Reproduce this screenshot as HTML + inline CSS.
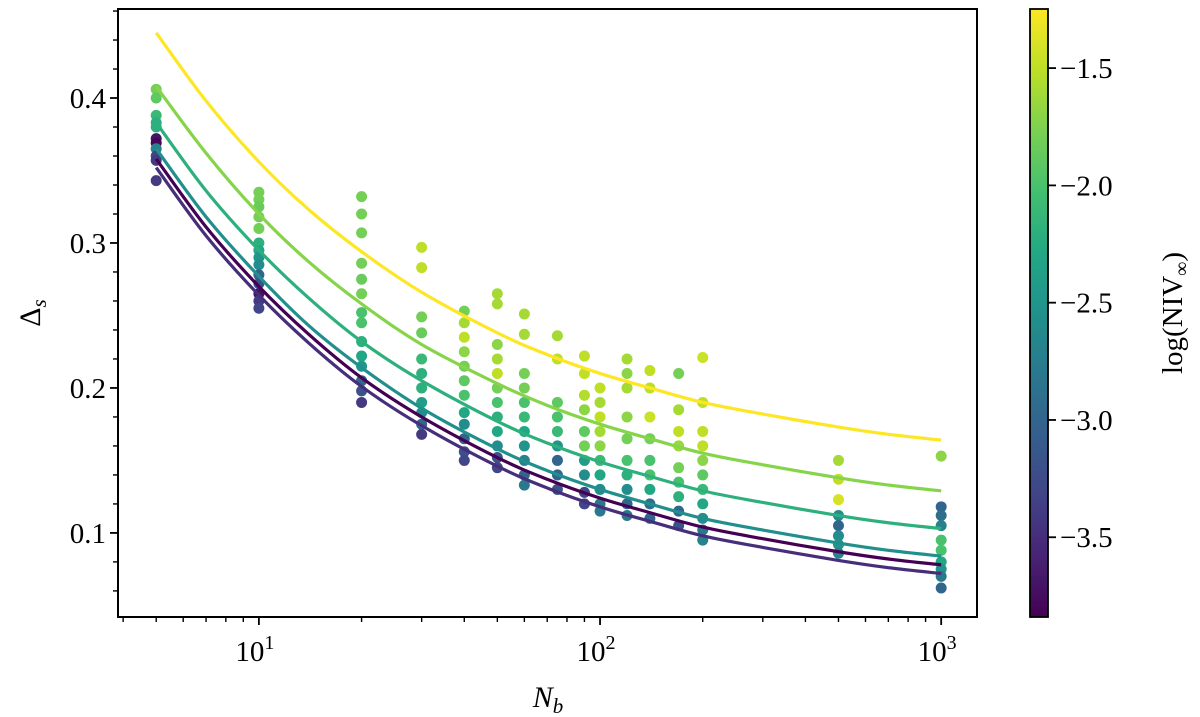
<!DOCTYPE html>
<html><head><meta charset="utf-8"><style>
html,body{margin:0;padding:0;background:#fff;}
svg{display:block;font-family:"Liberation Serif","Times New Roman",Times,serif;}
</style></head><body>
<svg id="chart" width="1200" height="717" viewBox="0 0 1200 717">
<defs>
<linearGradient id="vir" x1="0" y1="1" x2="0" y2="0">
<stop offset="0" stop-color="#440154"/><stop offset="0.1" stop-color="#482475"/><stop offset="0.2" stop-color="#414487"/><stop offset="0.3" stop-color="#355f8d"/><stop offset="0.4" stop-color="#2a788e"/><stop offset="0.5" stop-color="#21918c"/><stop offset="0.6" stop-color="#22a884"/><stop offset="0.7" stop-color="#44bf70"/><stop offset="0.8" stop-color="#7ad151"/><stop offset="0.9" stop-color="#bddf26"/><stop offset="1" stop-color="#fde725"/>
</linearGradient>
<clipPath id="clip"><rect x="118" y="9" width="859" height="608"/></clipPath>
</defs>
<g id="marks" clip-path="url(#clip)"></g>
<g id="axes"></g>
</svg>
<script>
const curveN = [5, 7, 10, 14, 20, 30, 50, 70, 100, 140, 200, 300, 500, 700, 1000];
const curveC = [-1.25, -1.72, -2.2, -2.55, -3.84, -3.5];
const curveVals = [
 [0.445,0.398,0.356,0.323,0.294,0.266,0.238,0.223,0.210,0.200,0.190,0.182,0.173,0.168,0.164],
 [0.408,0.362,0.320,0.287,0.258,0.230,0.203,0.188,0.175,0.165,0.155,0.147,0.138,0.133,0.129],
 [0.383,0.336,0.295,0.262,0.232,0.205,0.177,0.162,0.149,0.139,0.129,0.121,0.112,0.107,0.103],
 [0.365,0.318,0.277,0.243,0.214,0.186,0.158,0.143,0.130,0.120,0.110,0.102,0.093,0.088,0.084],
 [0.358,0.311,0.270,0.237,0.207,0.180,0.152,0.137,0.124,0.114,0.104,0.096,0.087,0.082,0.078],
 [0.352,0.305,0.264,0.231,0.201,0.174,0.146,0.131,0.118,0.108,0.098,0.090,0.081,0.076,0.072]
];
const pointN = [5,5,5,5,5,5,5,5,5,5,5, 10,10,10,10,10,10,10,10,10,10,10,10,10,10, 20,20,20,20,20,20,20,20,20,20,20,20,20,20, 30,30,30,30,30,30,30,30,30,30,30, 40,40,40,40,40,40,40,40,40,40,40,40, 50,50,50,50,50,50,50,50,50,50,50,50, 60,60,60,60,60,60,60,60,60,60,60, 75,75,75,75,75,75,75,75,75, 90,90,90,90,90,90,90,90,90,90, 100,100,100,100,100,100,100,100,100,100, 120,120,120,120,120,120,120,120,120,120, 140,140,140,140,140,140,140,140,140, 170,170,170,170,170,170,170,170,170, 200,200,200,200,200,200,200,200,200,200,200, 500,500,500,500,500,500,500,500, 1000,1000,1000,1000,1000,1000,1000,1000,1000,1000];
const pointV = [0.406,0.400,0.388,0.383,0.380,0.372,0.369,0.365,0.360,0.357,0.343, 0.335,0.330,0.325,0.318,0.310,0.300,0.295,0.290,0.285,0.278,0.272,0.265,0.260,0.255, 0.332,0.320,0.307,0.286,0.275,0.265,0.252,0.245,0.232,0.222,0.215,0.205,0.198,0.190, 0.297,0.283,0.249,0.238,0.220,0.210,0.200,0.190,0.183,0.175,0.168, 0.253,0.245,0.235,0.225,0.215,0.205,0.195,0.183,0.175,0.165,0.156,0.150, 0.265,0.258,0.230,0.220,0.210,0.200,0.190,0.180,0.170,0.160,0.152,0.145, 0.251,0.237,0.210,0.200,0.190,0.180,0.170,0.160,0.150,0.140,0.133, 0.236,0.220,0.190,0.180,0.170,0.160,0.150,0.140,0.130, 0.222,0.210,0.195,0.185,0.170,0.160,0.150,0.140,0.128,0.120, 0.200,0.190,0.180,0.170,0.160,0.150,0.140,0.130,0.120,0.115, 0.220,0.210,0.200,0.180,0.165,0.150,0.140,0.130,0.120,0.112, 0.212,0.200,0.180,0.165,0.150,0.140,0.130,0.120,0.110, 0.210,0.185,0.170,0.160,0.145,0.135,0.125,0.115,0.105, 0.221,0.190,0.170,0.160,0.150,0.140,0.130,0.120,0.110,0.102,0.095, 0.150,0.137,0.123,0.112,0.105,0.098,0.092,0.086, 0.153,0.118,0.112,0.105,0.095,0.088,0.080,0.075,0.070,0.062];
const pointC = [-1.8,-1.9,-2.1,-2.2,-2.2,-3.7,-3.8,-2.7,-3.3,-3.4,-3.4, -1.8,-1.8,-1.85,-1.8,-1.8,-2.2,-2.3,-2.5,-2.6,-3.0,-3.2,-3.7,-3.4,-3.3, -1.8,-1.8,-1.8,-1.8,-1.85,-1.8,-2.0,-2.0,-2.2,-2.3,-2.5,-3.0,-3.2,-3.4, -1.5,-1.5,-1.8,-1.85,-2.1,-2.2,-2.2,-2.4,-2.6,-3.0,-3.4, -1.8,-1.6,-1.5,-1.7,-1.8,-1.9,-2.0,-2.3,-2.6,-3.0,-3.2,-3.3, -1.6,-1.6,-1.7,-1.6,-1.5,-1.8,-2.0,-2.2,-2.3,-2.6,-3.2,-3.3, -1.6,-1.6,-1.8,-1.8,-2.0,-2.1,-2.3,-2.5,-2.7,-3.0,-2.8, -1.6,-1.5,-1.9,-2.0,-2.1,-2.5,-3.0,-3.0,-3.2, -1.5,-1.5,-1.55,-1.7,-1.9,-1.8,-2.4,-2.6,-3.3,-3.3, -1.5,-1.6,-1.5,-1.6,-1.7,-2.1,-2.3,-2.6,-2.8,-2.8, -1.6,-1.7,-1.6,-1.7,-1.8,-2.0,-2.2,-2.6,-3.0,-2.8, -1.5,-1.5,-1.45,-1.8,-2.0,-2.0,-2.3,-2.9,-3.0, -1.8,-1.6,-1.5,-1.65,-1.8,-2.0,-2.2,-3.0,-3.2, -1.45,-1.5,-1.5,-1.5,-1.7,-1.9,-2.1,-2.3,-2.6,-2.8,-2.7, -1.6,-1.5,-1.4,-2.6,-3.0,-2.6,-2.5,-2.7, -1.7,-3.0,-2.9,-2.7,-2.0,-2.0,-2.3,-2.5,-2.8,-3.0];
const yTicks = [0.1, 0.2, 0.3, 0.4];
const yTickLabels = ["0.1", "0.2", "0.3", "0.4"];
const xTickExp = [1, 2, 3];
const cbTicks = [-1.5, -2.0, -2.5, -3.0, -3.5];
const cbTickLabels = ["\u22121.5", "\u22122.0", "\u22122.5", "\u22123.0", "\u22123.5"];

const L=118,R=977,T=9,B=617;
const xMin=0.587,xMax=3.105,yMin=0.042,yMax=0.4614;
const X=n=>L+(Math.log10(n)-xMin)/(xMax-xMin)*(R-L);
const Y=v=>B-(v-yMin)/(yMax-yMin)*(B-T);
const cMin=-3.84,cMax=-1.248,CBT=9,CBB=617,CBL=1030,CBR=1048;
const CY=c=>CBB-(c-cMin)/(cMax-cMin)*(CBB-CBT);
const stops=["#440154","#482475","#414487","#355f8d","#2a788e","#21918c","#22a884","#44bf70","#7ad151","#bddf26","#fde725"];
function viridis(c){let t=Math.max(0,Math.min(1,(c-cMin)/(cMax-cMin)))*10;let i=Math.min(9,Math.floor(t)),f=t-i;
 const h=s=>[1,3,5].map(k=>parseInt(s.substr(k,2),16));const a=h(stops[i]),b=h(stops[i+1]);
 return "rgb("+a.map((v,k)=>Math.round(v+(b[k]-v)*f)).join(",")+")";}
const NS="http://www.w3.org/2000/svg";
function mk(tag,attrs,parent){const e=document.createElementNS(NS,tag);for(const k in attrs)e.setAttribute(k,attrs[k]);parent.appendChild(e);return e;}
const marks=document.getElementById('marks'),axes=document.getElementById('axes');

for(let i=0;i<pointN.length;i++){
 const c=mk('circle',{cx:X(pointN[i]),cy:Y(pointV[i]),r:5.5,fill:viridis(pointC[i])},marks);
 
 
}
function smooth(pts){let d="M"+pts[0][0]+","+pts[0][1];
 for(let i=0;i<pts.length-1;i++){const p0=pts[Math.max(0,i-1)],p1=pts[i],p2=pts[i+1],p3=pts[Math.min(pts.length-1,i+2)];
  d+=" C"+(p1[0]+(p2[0]-p0[0])/6)+","+(p1[1]+(p2[1]-p0[1])/6)+" "+(p2[0]-(p3[0]-p1[0])/6)+","+(p2[1]-(p3[1]-p1[1])/6)+" "+p2[0]+","+p2[1];}
 return d;}
const order=[4,5,3,2,1,0];
order.forEach(k=>{
 const pts=curveN.map((n,i)=>[X(n),Y(curveVals[k][i])]);
 const p=mk('path',{d:smooth(pts),fill:"none",stroke:viridis(curveC[k]),"stroke-width":3.2},marks);
 
 
});
const fr=mk('rect',{x:L,y:T,width:R-L,height:B-T,fill:"none",stroke:"#000","stroke-width":2},axes);


for(let v=0.06;v<=0.461;v+=0.02){const y=Y(v);const maj=Math.abs(v*10-Math.round(v*10))<1e-6;
 mk('line',{x1:L,x2:L-(maj?8:5),y1:y,y2:y,stroke:"#000","stroke-width":maj?1.8:1.4},axes);}
yTicks.forEach((v,i)=>{const t=mk('text',{x:L-12,y:Y(v)+10,"font-size":29,"text-anchor":"end"},axes);t.textContent=yTickLabels[i];
 
 });
for(let e=0;e<=3;e++)for(let m=1;m<=9;m++){const n=m*Math.pow(10,e);const lx=Math.log10(n);if(lx<xMin||lx>xMax)continue;
 const x=X(n);mk('line',{x1:x,x2:x,y1:B,y2:B+(m==1?8:5),stroke:"#000","stroke-width":m==1?1.8:1.4},axes);}
xTickExp.forEach(e=>{const x=X(Math.pow(10,e));const t=mk('text',{x:x-4,y:B+44,"font-size":29,"text-anchor":"middle"},axes);
 t.textContent="10";const s=mk('tspan',{dy:-12,"font-size":20},t);s.textContent=String(e);
 
 });
const xt=mk('text',{x:548,y:707,"font-size":30,"font-style":"italic","text-anchor":"middle"},axes);
xt.innerHTML='N<tspan font-size="21" dy="6">b</tspan>';


const yt=mk('text',{x:0,y:0,"font-size":30,"text-anchor":"middle",transform:"translate(40,313) rotate(-90)"},axes);
yt.innerHTML='Δ<tspan font-size="21" font-style="italic" dy="6">s</tspan>';


const cb=mk('rect',{x:CBL,y:CBT,width:CBR-CBL,height:CBB-CBT,fill:"url(#vir)",stroke:"#000","stroke-width":1.8},axes);


cbTicks.forEach((c,i)=>{const y=CY(c);mk('line',{x1:CBR,x2:CBR+8,y1:y,y2:y,stroke:"#000","stroke-width":1.8},axes);
 const t=mk('text',{x:CBR+12,y:y+10,"font-size":29},axes);t.textContent=cbTickLabels[i];
 
 });
for(let c=-3.75;c>-1.3;c+=0.1){const y=CY(c);if(cbTicks.some(v=>Math.abs(v-c)<0.01))continue;
 mk('line',{x1:CBR,x2:CBR+4,y1:y,y2:y,stroke:"#000","stroke-width":1.2},axes);}
const ct=mk('text',{x:0,y:0,"font-size":29,"text-anchor":"middle",transform:"translate(1182,313) rotate(-90)"},axes);
ct.innerHTML='log(NIV<tspan font-size="20" dy="6">∞</tspan><tspan dy="-6">)</tspan>';


</script>
</body></html>
